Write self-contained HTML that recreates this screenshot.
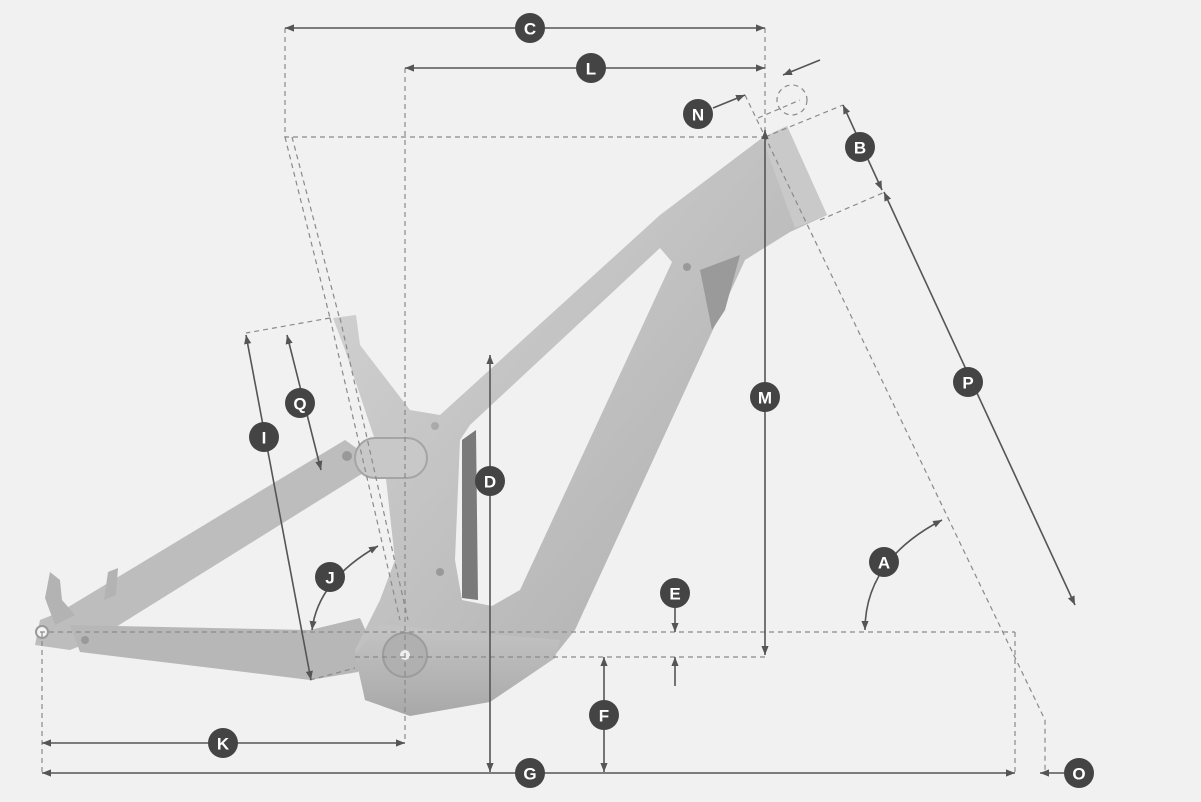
<!DOCTYPE html>
<html><head><meta charset="utf-8"><style>
html,body{margin:0;padding:0;background:#f1f1f1;}
svg{display:block}
text{font-family:"Liberation Sans",sans-serif;font-weight:bold;fill:#fff;font-size:17px;text-anchor:middle;dominant-baseline:central}
</style></head><body>
<svg width="1201" height="802" viewBox="0 0 1201 802" xmlns="http://www.w3.org/2000/svg">
<defs>
<marker id="ar" viewBox="0 0 10 10" refX="10" refY="5" markerWidth="9" markerHeight="9" orient="auto-start-reverse" markerUnits="userSpaceOnUse"><path d="M0,1 L10,5 L0,9z" fill="#555"/></marker>
<linearGradient id="g1" x1="0" y1="0" x2="1" y2="1"><stop offset="0" stop-color="#d6d6d6"/><stop offset="1" stop-color="#a9a9a9"/></linearGradient>
<linearGradient id="g2" x1="0" y1="0" x2="0" y2="1"><stop offset="0" stop-color="#c4c4c4"/><stop offset="1" stop-color="#a8a8a8"/></linearGradient>
</defs>
<!-- frame -->
<g stroke="none">
<polygon points="40,620 60,612 345,440 362,452 368,470 95,640 70,650 35,645" fill="#bdbdbd"/>
<polygon points="70,625 310,630 360,618 370,640 358,672 310,680 80,652" fill="#b7b7b7"/>
<polygon points="45,598 50,572 60,580 62,600 75,615 55,625" fill="#b3b3b3"/>
<polygon points="104,600 108,572 118,568 116,595" fill="#b3b3b3"/>
<polygon points="333,318 356,315 360,345 410,410 440,415 660,215 762,138 787,126 827,215 790,232 745,260 575,630 555,655 490,700 410,715 365,700 355,650 380,600 395,560 385,470 345,350" fill="url(#g1)"/>
<polygon points="470,425 660,248 672,262 520,590 492,606 462,600 455,560 460,440" fill="#f1f1f1"/>
<polygon points="462,440 476,430 478,600 462,598" fill="#7a7a7a"/>
<polygon points="700,270 740,255 725,310 712,330" fill="#9a9a9a"/>
<polygon points="355,655 380,625 560,640 555,658 490,702 410,716 365,700" fill="url(#g2)"/>
<polygon points="762,138 787,126 827,215 795,228" fill="#c9c9c9"/>
<rect x="355" y="438" width="72" height="40" rx="20" fill="#c8c8c8" stroke="#a5a5a5" stroke-width="2"/>
<circle cx="347" cy="456" r="5" fill="#999"/>
<circle cx="405" cy="655" r="22" fill="#b0b0b0" stroke="#9c9c9c" stroke-width="2"/>
<circle cx="405" cy="655" r="5" fill="#eee"/>
<circle cx="42" cy="632" r="6" fill="#f4f4f4" stroke="#999" stroke-width="2"/>
<circle cx="85" cy="640" r="4" fill="#999"/>
<circle cx="687" cy="267" r="4" fill="#999"/>
<circle cx="440" cy="572" r="4" fill="#999"/>
<circle cx="435" cy="426" r="4" fill="#aaa"/>
</g>
<!-- dashed -->
<g fill="none" stroke="#8a8a8a" stroke-width="1.2" stroke-dasharray="5,4">
<path d="M285,28 V137 H765 M405,68 V742 M765,28 V137"/>
<path d="M285,137 L330,318 M292,137 L340,320 M330,318 L246,333 M330,318 L400,620 M340,318 L408,620"/>
<path d="M40,632 H1015 M355,657 H765 M42,632 V773 M1015,632 V773"/>
<path d="M745,95 L1045,720 V773 M765,137 L843,105 M820,220 L885,192 M758,118 L800,100"/>
<circle cx="792" cy="100" r="15"/>
<path d="M310,680 L355,668"/>
</g>
<!-- dimension lines -->
<g fill="none" stroke="#555" stroke-width="1.6">
<line x1="285" y1="28" x2="765" y2="28" marker-start="url(#ar)" marker-end="url(#ar)"/>
<line x1="405" y1="68" x2="765" y2="68" marker-start="url(#ar)" marker-end="url(#ar)"/>
<line x1="765" y1="130" x2="765" y2="655" marker-start="url(#ar)" marker-end="url(#ar)"/>
<line x1="490" y1="355" x2="490" y2="772" marker-start="url(#ar)" marker-end="url(#ar)"/>
<line x1="42" y1="773" x2="1015" y2="773" marker-start="url(#ar)" marker-end="url(#ar)"/>
<line x1="42" y1="743" x2="405" y2="743" marker-start="url(#ar)" marker-end="url(#ar)"/>
<line x1="604" y1="657" x2="604" y2="772" marker-start="url(#ar)" marker-end="url(#ar)"/>
<line x1="675" y1="605" x2="675" y2="632" marker-end="url(#ar)"/>
<line x1="675" y1="686" x2="675" y2="657" marker-end="url(#ar)"/>
<line x1="843" y1="105" x2="882" y2="190" marker-start="url(#ar)" marker-end="url(#ar)"/>
<line x1="884" y1="192" x2="1075" y2="605" marker-start="url(#ar)" marker-end="url(#ar)"/>
<line x1="713" y1="108" x2="745" y2="95" marker-end="url(#ar)"/>
<line x1="820" y1="60" x2="783" y2="75" marker-end="url(#ar)"/>
<line x1="1065" y1="773" x2="1040" y2="773" marker-end="url(#ar)"/>
<line x1="287" y1="335" x2="321" y2="470" marker-start="url(#ar)" marker-end="url(#ar)"/>
<line x1="246" y1="335" x2="311" y2="680" marker-start="url(#ar)" marker-end="url(#ar)"/>
<path d="M865,630 Q865,560 942,520" marker-start="url(#ar)" marker-end="url(#ar)"/>
<path d="M312,630 Q318,580 378,546" marker-start="url(#ar)" marker-end="url(#ar)"/>
</g>
<!-- labels -->
<g>
<g fill="#444">
<circle cx="530" cy="28" r="15"/><circle cx="591" cy="68" r="15"/><circle cx="698" cy="114" r="15"/>
<circle cx="860" cy="147" r="15"/><circle cx="765" cy="397" r="15"/><circle cx="968" cy="382" r="15"/>
<circle cx="490" cy="481" r="15"/><circle cx="884" cy="562" r="15"/><circle cx="675" cy="593" r="15"/>
<circle cx="604" cy="715" r="15"/><circle cx="530" cy="773" r="15"/><circle cx="223" cy="743" r="15"/>
<circle cx="1079" cy="773" r="15"/><circle cx="300" cy="403" r="15"/><circle cx="264" cy="437" r="15"/>
<circle cx="330" cy="577" r="15"/>
</g>
<text x="530" y="29">C</text><text x="591" y="69">L</text><text x="698" y="115">N</text>
<text x="860" y="148">B</text><text x="765" y="398">M</text><text x="968" y="383">P</text>
<text x="490" y="482">D</text><text x="884" y="563">A</text><text x="675" y="594">E</text>
<text x="604" y="716">F</text><text x="530" y="774">G</text><text x="223" y="744">K</text>
<text x="1079" y="774">O</text><text x="300" y="404">Q</text><text x="264" y="438">I</text>
<text x="330" y="578">J</text>
</g>
</svg>
</body></html>
